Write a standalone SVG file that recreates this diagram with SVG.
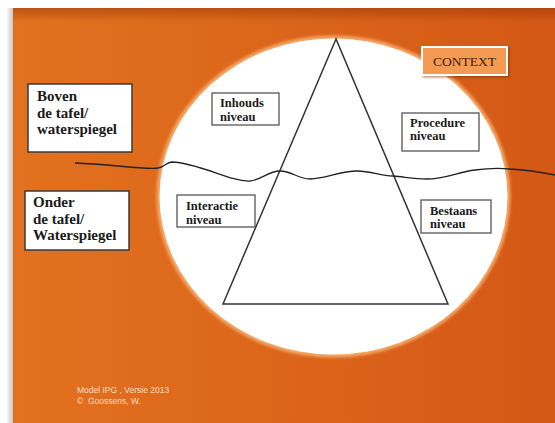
<svg xmlns="http://www.w3.org/2000/svg" width="555" height="423" viewBox="0 0 555 423">
  <defs>
    <linearGradient id="bg" x1="0" y1="0" x2="1" y2="0">
      <stop offset="0" stop-color="#e2721f"/>
      <stop offset="1" stop-color="#d45815"/>
    </linearGradient>
    <linearGradient id="topshade" x1="0" y1="0" x2="0" y2="1">
      <stop offset="0" stop-color="#8a3000" stop-opacity="0.45"/>
      <stop offset="1" stop-color="#8a3000" stop-opacity="0"/>
    </linearGradient>
    <linearGradient id="leftshade" x1="0" y1="0" x2="1" y2="0">
      <stop offset="0" stop-color="#ffffff"/>
      <stop offset="1" stop-color="#c8c8c8"/>
    </linearGradient>
    <filter id="glow" x="-10%" y="-10%" width="120%" height="120%">
      <feGaussianBlur stdDeviation="1.5"/>
    </filter>
    <filter id="shadow" x="-10%" y="-10%" width="130%" height="140%">
      <feDropShadow dx="1.5" dy="1.5" stdDeviation="1" flood-color="#6a2a00" flood-opacity="0.5"/>
    </filter>
  </defs>
  <style>
    .lbl { fill: #ffffff; stroke: #3a3a3a; stroke-width: 1.5; }
    .sm { fill: #ffffff; stroke: #555555; stroke-width: 1.3; }
    .big { font-family: "Liberation Serif", serif; font-weight: bold; font-size: 15px; fill: #1a1a1a; }
    .small { font-family: "Liberation Serif", serif; font-weight: bold; font-size: 12.5px; fill: #1a1a1a; }
    .foot { font-family: "Liberation Sans", sans-serif; font-size: 8.5px; fill: #f9dcc2; }
  </style>

  <rect x="0" y="0" width="555" height="423" fill="#ffffff"/>
  <rect x="6" y="8" width="7" height="415" fill="url(#leftshade)"/>
  <rect x="13" y="8" width="542" height="415" fill="url(#bg)"/>
  <rect x="13" y="8" width="542" height="14" fill="url(#topshade)"/>

  <ellipse cx="333.5" cy="196.5" rx="177" ry="161" fill="#f6a868" filter="url(#glow)"/>
  <ellipse cx="333.5" cy="196.5" rx="174" ry="158" fill="#ffffff"/>

  <g id="triangle">
    <path d="M336,39 L223,304 L448,304 Z" fill="none" stroke="#333333" stroke-width="1.5" stroke-linejoin="miter"/>
  </g>

  <g id="connectors">
    <path d="M75,163 C110,164 145,170 158,168 C165,167 166,162 172,162 C200,163 230,182 250,181 C262,180 268,171 280,171 C292,171 298,179 310,179 C325,179 340,171 357,171 C372,171 380,176 393,176 C405,177 415,179 427,179 C445,179 458,172 475,170 C490,168 500,168 510,169 C530,170 545,173 555,175" fill="none" stroke="#222222" stroke-width="1.3"/>
  </g>

  <g id="boven">
    <rect class="lbl" x="28" y="84" width="104" height="68"/>
    <text class="big" x="37" y="101">Boven</text>
    <text class="big" x="37" y="118">de tafel/</text>
    <text class="big" x="37" y="134">waterspiegel</text>
  </g>

  <g id="onder">
    <rect class="lbl" x="25" y="191" width="104" height="59"/>
    <text class="big" x="33" y="207">Onder</text>
    <text class="big" x="33" y="224">de tafel/</text>
    <text class="big" x="33" y="240">Waterspiegel</text>
  </g>

  <g id="inhouds">
    <rect class="sm" x="212" y="93" width="67" height="32"/>
    <text class="small" x="220" y="107">Inhouds</text>
    <text class="small" x="220" y="121">niveau</text>
  </g>

  <g id="interactie">
    <rect class="sm" x="177" y="195" width="78" height="32"/>
    <text class="small" x="186" y="210">Interactie</text>
    <text class="small" x="186" y="224">niveau</text>
  </g>

  <g id="procedure">
    <rect class="sm" x="402" y="113" width="77" height="38"/>
    <text class="small" x="410" y="127">Procedure</text>
    <text class="small" x="410" y="140">niveau</text>
  </g>

  <g id="bestaans">
    <rect class="sm" x="421" y="200" width="70" height="33"/>
    <text class="small" x="430" y="215">Bestaans</text>
    <text class="small" x="430" y="228">niveau</text>
  </g>

  <g id="context">
    <rect x="422" y="47" width="85" height="28" fill="#f59a52" stroke="#ffffff" stroke-width="2" filter="url(#shadow)"/>
    <text x="464.5" y="65.5" text-anchor="middle" font-family="Liberation Serif, serif" font-size="13.5" fill="#3a2010">CONTEXT</text>
  </g>

  <g id="footer">
    <text class="foot" x="77" y="393">Model IPG , Versie 2013</text>
    <text class="foot" x="77" y="404" xml:space="preserve">©  Goossens, W.</text>
  </g>
</svg>
